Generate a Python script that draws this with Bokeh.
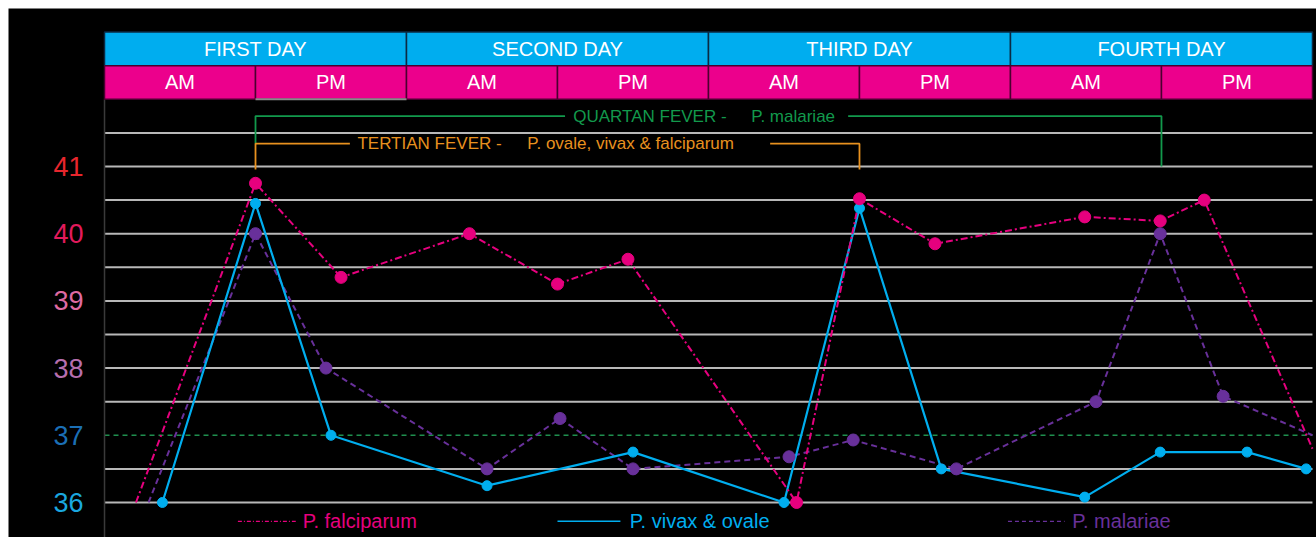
from bokeh.plotting import figure
from bokeh.core.properties import value
from bokeh.embed import file_html
from bokeh.resources import INLINE

# ---------------- data (time in hours from start of first day, temperature in °C) ----------------
FALC_HOURS = [2.5, 12.0, 18.8, 29.0, 36.0, 41.6, 55.0, 60.0, 66.0, 77.9, 83.9, 87.4, 96.0]
FALC_TEMP = [36.0, 40.75, 39.35, 40.0, 39.25, 39.62, 36.0, 40.52, 39.85, 40.25, 40.19, 40.5, 36.8]

VIVAX_HOURS = [4.6, 12.0, 18.0, 30.4, 42.0, 54.0, 60.0, 66.5, 77.9, 83.9, 90.8, 95.5]
VIVAX_TEMP = [36.0, 40.45, 37.0, 36.25, 36.75, 36.0, 40.38, 36.5, 36.08, 36.75, 36.75, 36.5]

MAL_HOURS = [3.5, 12.0, 17.6, 30.4, 36.2, 42.0, 54.4, 59.5, 67.7, 78.8, 83.9, 88.9, 96.0]
MAL_TEMP = [36.0, 40.0, 38.0, 36.5, 37.25, 36.5, 36.68, 36.93, 36.5, 37.5, 40.0, 37.58, 37.0]

DAY_LABELS = ["FIRST DAY", "SECOND DAY", "THIRD DAY", "FOURTH DAY"]
DAY_START = [0, 24, 48, 72]
HALF_LABELS = ["AM", "PM", "AM", "PM", "AM", "PM", "AM", "PM"]
HALF_START = [0, 12, 24, 36, 48, 60, 72, 84]

TICK_VALUES = [36, 37, 38, 39, 40, 41]
TICK_LABELS = ["36", "37", "38", "39", "40", "41"]
TICK_COLORS = ["#1aa7df", "#1b6fb5", "#b66fae", "#de6aa2", "#e31a5c", "#e8262d"]
GRID_TICKS = [36, 36.5, 37.5, 38, 38.5, 39, 39.5, 40, 40.5, 41, 41.5]
NORMAL_TEMP = [37]

TERTIAN_SPAN = [12, 60]   # 48 h cycle
QUARTAN_SPAN = [12, 84]   # 72 h cycle

# ---------------- styles ----------------
FALC_COLOR = "#e6007e"
VIVAX_COLOR = "#00aeef"
MAL_COLOR = "#68309a"
CYAN = "#00adef"
MAGENTA = "#ec008c"
GREEN = "#12994c"
ORANGE = "#e8911f"
FONT = value("Liberation Sans")
X0, X1 = 0, 96          # plotted time span
Y_BOTTOM, Y_HEADER = 35.479, 42.0

p = figure(width=1308, height=529, margin=(8, 0, 0, 8),
           x_range=(-7.63, 96.32), y_range=(Y_BOTTOM, 43.351),
           x_axis_type=None, y_axis_type=None,
           toolbar_location=None, output_backend="svg",
           min_border_left=0, min_border_right=0,
           min_border_top=0, min_border_bottom=0,
           background_fill_color="black", border_fill_color="black",
           outline_line_color=None)

# horizontal grid and normal-temperature line
p.segment(x0=X0, x1=X1, y0=GRID_TICKS, y1=GRID_TICKS, line_color="#b8b8b8", line_width=2)
p.segment(x0=X0, x1=X1, y0=NORMAL_TEMP, y1=NORMAL_TEMP, line_color="#1f8f4e",
          line_width=1.5, line_dash="5 4")
# left axis line
p.segment(x0=[X0], x1=[X0], y0=[Y_BOTTOM], y1=[Y_HEADER], line_color="#3a3a3a", line_width=1.5)

# coloured temperature labels
p.text(x=-1.67, y=TICK_VALUES, text=TICK_LABELS, text_color=TICK_COLORS,
       text_align="right", text_baseline="middle", text_font_size="27px", text_font=FONT)

# header rows
day_end = [d + 24 for d in DAY_START]
half_end = [h + 12 for h in HALF_START]
p.quad(left=DAY_START, right=day_end, bottom=42.5, top=43.0,
       fill_color=CYAN, line_color="#0b2a44", line_width=1.5)
p.quad(left=HALF_START, right=half_end, bottom=42.0, top=42.5,
       fill_color=MAGENTA, line_color="#4a0030", line_width=1.5)
p.segment(x0=[HALF_START[1]], x1=[half_end[1]], y0=[42.0], y1=[42.0],
          line_color="#8c8c8c", line_width=2)
p.text(x=[d + 12 for d in DAY_START], y=42.75, text=DAY_LABELS,
       text_color="white", text_align="center", text_baseline="middle",
       text_font_size="20px", text_font=FONT)
p.text(x=[h + 6 for h in HALF_START], y=42.25, text=HALF_LABELS,
       text_color="white", text_align="center", text_baseline="middle",
       text_font_size="20px", text_font=FONT)

# fever-cycle brackets
q0, q1 = QUARTAN_SPAN
t0, t1 = TERTIAN_SPAN
p.line([q0, q0, 36.6], [41.34, 41.75, 41.75], line_color=GREEN, line_width=1.8)
p.line([59.1, q1, q1], [41.75, 41.75, 41.0], line_color=GREEN, line_width=1.8)
p.text(x=[37.25, 51.4], y=41.75, text=["QUARTAN FEVER -", "P. malariae"],
       text_color=GREEN, text_baseline="middle", text_font_size="17px", text_font=FONT)
p.line([t0, t0, 19.5], [40.955, 41.34, 41.34], line_color=ORANGE, line_width=1.8)
p.line([52.9, t1, t1], [41.34, 41.34, 40.955], line_color=ORANGE, line_width=1.8)
p.text(x=[20.1, 33.6], y=41.34, text=["TERTIAN FEVER -", "P. ovale, vivax & falciparum"],
       text_color=ORANGE, text_baseline="middle", text_font_size="17px", text_font=FONT)

# series
p.line(MAL_HOURS, MAL_TEMP, line_color=MAL_COLOR, line_width=2, line_dash="6 4")
p.line(VIVAX_HOURS, VIVAX_TEMP, line_color=VIVAX_COLOR, line_width=2.2)
p.line(FALC_HOURS, FALC_TEMP, line_color=FALC_COLOR, line_width=2, line_dash="7 3 2 3")
p.scatter(MAL_HOURS[1:-1], MAL_TEMP[1:-1], size=12, color=MAL_COLOR)
p.scatter(VIVAX_HOURS, VIVAX_TEMP, size=10, color=VIVAX_COLOR)
p.scatter(FALC_HOURS[1:-1], FALC_TEMP[1:-1], size=12, color=FALC_COLOR)

# legend (drawn manually to reproduce its spread-out layout)
LEG_Y = 35.72
p.line([10.6, 15.2], [LEG_Y, LEG_Y], line_color=FALC_COLOR, line_width=1.3, line_dash="4 2 1 2")
p.line([36.0, 41.0], [LEG_Y, LEG_Y], line_color=VIVAX_COLOR, line_width=1.6)
p.line([71.8, 76.3], [LEG_Y, LEG_Y], line_color=MAL_COLOR, line_width=1.3, line_dash="4 3")
p.text(x=[15.75, 41.75, 76.9], y=LEG_Y,
       text=["P. falciparum", "P. vivax & ovale", "P. malariae"],
       text_color=[FALC_COLOR, VIVAX_COLOR, MAL_COLOR],
       text_baseline="middle", text_font_size="20px", text_font=FONT)

open("out.html", "w").write(file_html(p, INLINE))
